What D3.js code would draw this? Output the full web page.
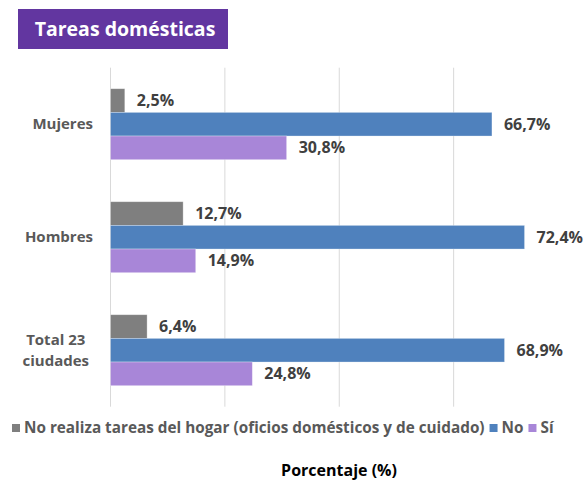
<!DOCTYPE html>
<html>

<head>
  <meta charset="utf-8">
  <title>Tareas domésticas</title>
  <script src="https://d3js.org/d3.v7.min.js"></script>
  <style>
    body { margin: 0; background: #fff; }
    text { font-family: "Open Sans", sans-serif; font-weight: bold; }
  </style>
</head>

<body>
  <div id='view'></div>
  <script>
    // data
    var categories = [["Mujeres"], ["Hombres"], ["Total 23", "ciudades"]];
    var series = ["No realiza tareas del hogar (oficios domésticos y de cuidado)", "No", "Sí"];
    var noRealiza = [2.5, 12.7, 6.4];
    var no = [66.7, 72.4, 68.9];
    var si = [30.8, 14.9, 24.8];
    var ticks = [0, 20, 40, 60];

    var colors = ["#7f7f7f", "#4f81bd", "#a886d8"];
    var values = [noRealiza, no, si];

    var width = 584;
    var height = 481;

    var svg = d3.select("#view")
      .append("svg")
      .attr("width", width)
      .attr("height", height);

    // title box
    svg.append("rect")
      .attr("x", 18)
      .attr("y", 9)
      .attr("width", 210)
      .attr("height", 40)
      .attr("fill", "#6236a0");
    svg.append("text")
      .attr("x", 125)
      .attr("y", 36)
      .attr("text-anchor", "middle")
      .attr("fill", "#fff")
      .style("font-size", "19.5px")
      .text("Tareas domésticas");

    var x = d3.scaleLinear()
      .domain([0, 80])
      .range([110.5, 568]);

    var y = d3.scaleBand()
      .domain(d3.range(categories.length))
      .range([67.7, 406.7])
      .paddingInner(0.372)
      .paddingOuter(0.186);

    var ySub = d3.scaleBand()
      .domain(d3.range(series.length))
      .range([0, y.bandwidth()]);

    // grid
    svg.append("g")
      .selectAll("line")
      .data(ticks)
      .join("line")
      .attr("x1", d => x(d))
      .attr("x2", d => x(d))
      .attr("y1", 67.7)
      .attr("y2", 406.7)
      .attr("stroke", "#d9d9d9")
      .attr("stroke-width", 1);

    // bars
    var groups = svg.append("g")
      .selectAll("g")
      .data(categories)
      .join("g")
      .attr("transform", (d, i) => "translate(0," + y(i) + ")");

    groups.each(function (c, ci) {
      var g = d3.select(this);
      series.forEach(function (s, si) {
        var v = values[si][ci];
        g.append("rect")
          .attr("x", x(0))
          .attr("y", ySub(si))
          .attr("width", x(v) - x(0))
          .attr("height", ySub.bandwidth())
          .attr("fill", colors[si])
          .attr("stroke", "#fff")
          .attr("stroke-opacity", 0.4)
          .attr("stroke-width", 0.75);
        g.append("text")
          .attr("x", x(v) + 12)
          .attr("y", ySub(si) + ySub.bandwidth() / 2)
          .attr("dy", "0.35em")
          .attr("fill", "#404040")
          .style("font-size", "16px")
          .text(d3.format(".1f")(v).replace(".", ",") + "%");
      });
    });

    // category labels
    categories.forEach(function (lines, i) {
      var cy = y(i) + y.bandwidth() / 2;
      var t = svg.append("text")
        .attr("fill", "#595959")
        .style("font-size", "15px")
        .attr("text-anchor", "middle");
      lines.forEach(function (l, li) {
        t.append("tspan")
          .attr("x", 0)
          .attr("y", cy + (li - (lines.length - 1) / 2) * 21)
          .attr("dy", "0.35em")
          .text(l);
      });
      var w = t.node().getBBox().width;
      t.selectAll("tspan").attr("x", (lines.length > 1 ? 89 : 93) - w / 2);
    });

    // legend
    var legend = svg.append("g").attr("transform", "translate(12,428)");
    var lx = 0;
    series.forEach(function (s, i) {
      legend.append("rect")
        .attr("x", lx)
        .attr("y", -4)
        .attr("width", 8)
        .attr("height", 8)
        .attr("fill", colors[i]);
      var t = legend.append("text")
        .attr("x", lx + 12)
        .attr("dy", "0.35em")
        .attr("fill", "#595959")
        .style("font-size", "15.3px")
        .text(s);
      lx += 12 + t.node().getComputedTextLength() + 5;
    });

    // axis title
    svg.append("text")
      .attr("x", 339)
      .attr("y", 476)
      .attr("text-anchor", "middle")
      .attr("fill", "#000")
      .style("font-size", "16px")
      .text("Porcentaje (%)");
  </script>
</body>

</html>
